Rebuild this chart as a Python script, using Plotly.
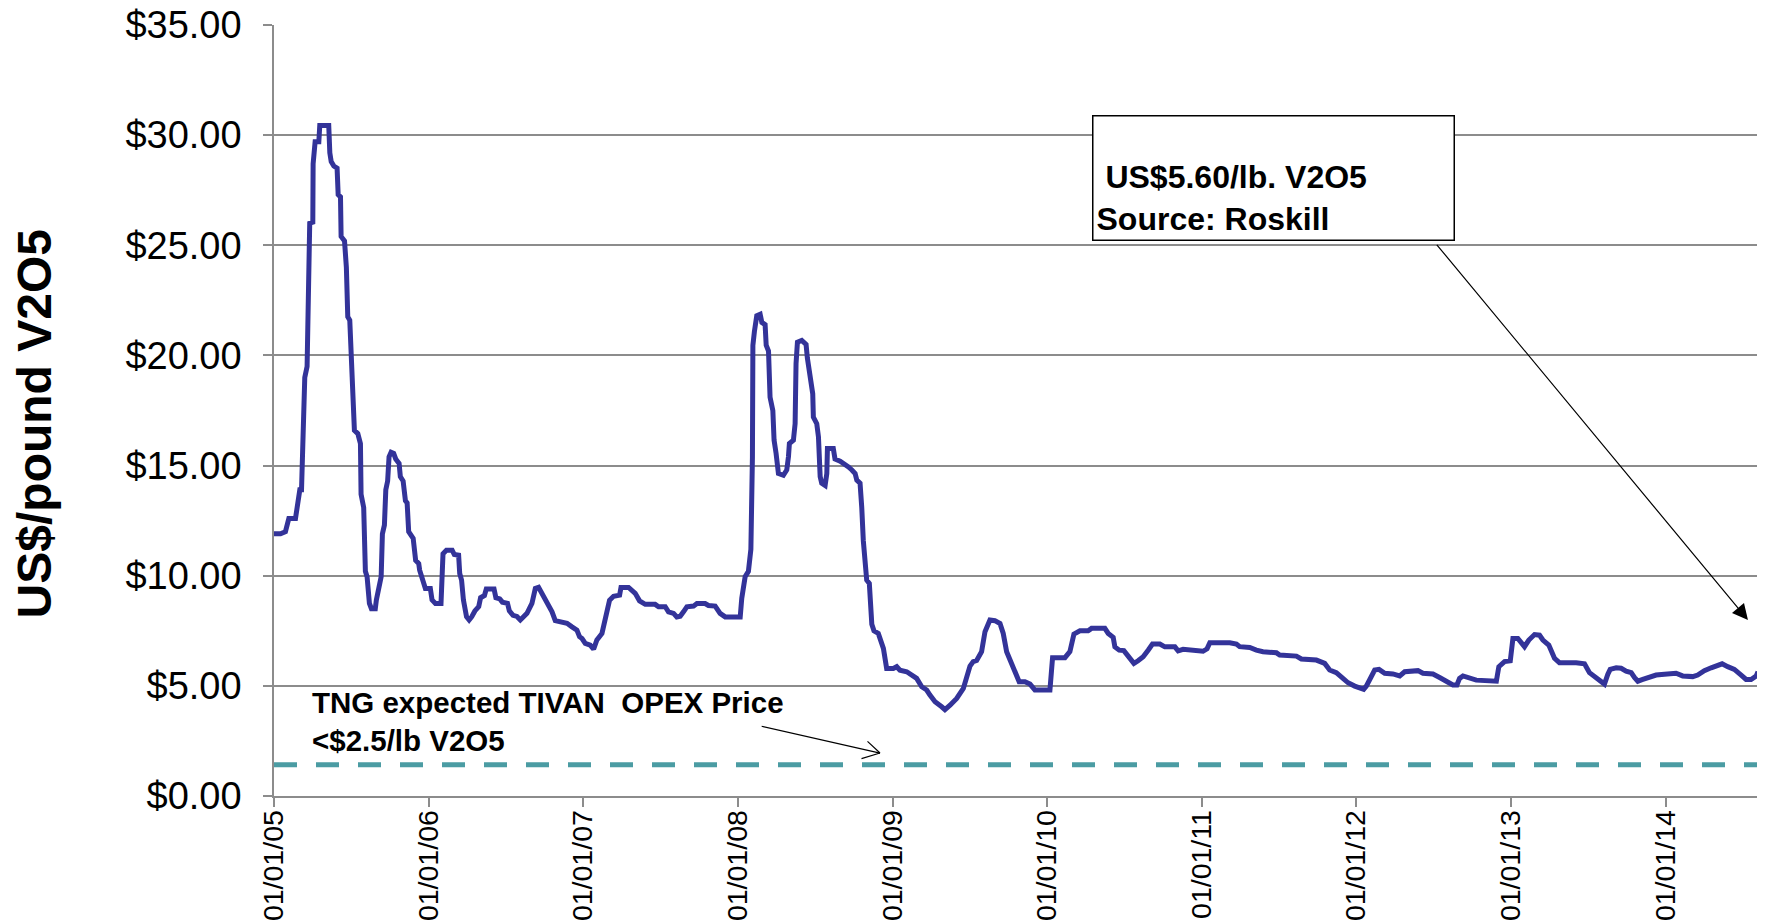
import pandas as pd
import plotly.graph_objects as go

# ---- data (decimal years, US$/lb V2O5) ----
t_years = [
    2005.000, 2005.042, 2005.074, 2005.096, 2005.139, 2005.150, 2005.167, 2005.178, 2005.189, 2005.199,
    2005.214, 2005.225, 2005.231, 2005.251, 2005.253, 2005.266, 2005.290, 2005.296, 2005.354, 2005.361,
    2005.370, 2005.387, 2005.408, 2005.415, 2005.430, 2005.434, 2005.456, 2005.468, 2005.477, 2005.490,
    2005.505, 2005.520, 2005.542, 2005.559, 2005.563, 2005.580, 2005.591, 2005.602, 2005.617, 2005.630,
    2005.655, 2005.662, 2005.693, 2005.701, 2005.714, 2005.723, 2005.735, 2005.744, 2005.757, 2005.774,
    2005.787, 2005.809, 2005.817, 2005.835, 2005.850, 2005.861, 2005.871, 2005.900, 2005.916, 2005.936,
    2005.942, 2005.968, 2005.979, 2006.011, 2006.022, 2006.044, 2006.080, 2006.093, 2006.115, 2006.152,
    2006.166, 2006.194, 2006.201, 2006.213, 2006.225, 2006.245, 2006.262, 2006.279, 2006.299, 2006.324,
    2006.336, 2006.361, 2006.373, 2006.423, 2006.435, 2006.460, 2006.477, 2006.510, 2006.522, 2006.546,
    2006.571, 2006.593, 2006.636, 2006.668, 2006.690, 2006.711, 2006.733, 2006.765, 2006.798, 2006.819,
    2006.862, 2006.895, 2006.927, 2006.959, 2006.976, 2006.992, 2007.013, 2007.045, 2007.067, 2007.088,
    2007.121, 2007.142, 2007.170, 2007.196, 2007.235, 2007.244, 2007.293, 2007.336, 2007.364, 2007.401,
    2007.465, 2007.487, 2007.530, 2007.551, 2007.584, 2007.605, 2007.627, 2007.648, 2007.670, 2007.713,
    2007.735, 2007.788, 2007.810, 2007.853, 2007.885, 2007.918, 2008.015, 2008.025, 2008.036, 2008.047,
    2008.068, 2008.084, 2008.094, 2008.097, 2008.107, 2008.122, 2008.144, 2008.155, 2008.176, 2008.183,
    2008.198, 2008.208, 2008.226, 2008.234, 2008.247, 2008.262, 2008.294, 2008.316, 2008.327, 2008.333,
    2008.359, 2008.370, 2008.376, 2008.385, 2008.413, 2008.441, 2008.449, 2008.467, 2008.484, 2008.488,
    2008.510, 2008.521, 2008.532, 2008.542, 2008.564, 2008.575, 2008.579, 2008.617, 2008.628, 2008.661,
    2008.687, 2008.715, 2008.737, 2008.758, 2008.769, 2008.790, 2008.801, 2008.811, 2008.833, 2008.850,
    2008.866, 2008.880, 2008.908, 2008.919, 2008.941, 2008.962, 2009.005, 2009.027, 2009.048, 2009.092,
    2009.124, 2009.156, 2009.189, 2009.221, 2009.242, 2009.275, 2009.318, 2009.339, 2009.372, 2009.415,
    2009.458, 2009.479, 2009.501, 2009.522, 2009.544, 2009.576, 2009.598, 2009.630, 2009.662, 2009.695,
    2009.716, 2009.738, 2009.770, 2009.803, 2009.819, 2009.856, 2009.889, 2009.921, 2010.018, 2010.035,
    2010.115, 2010.147, 2010.173, 2010.212, 2010.265, 2010.287, 2010.373, 2010.395, 2010.427, 2010.438,
    2010.466, 2010.496, 2010.513, 2010.535, 2010.561, 2010.588, 2010.621, 2010.653, 2010.681, 2010.729,
    2010.761, 2010.826, 2010.847, 2010.879, 2010.922, 2010.976, 2011.008, 2011.034, 2011.052, 2011.181,
    2011.224, 2011.245, 2011.310, 2011.353, 2011.396, 2011.483, 2011.504, 2011.612, 2011.644, 2011.741,
    2011.795, 2011.827, 2011.870, 2011.913, 2011.946, 2011.989, 2012.017, 2012.047, 2012.064, 2012.090,
    2012.118, 2012.146, 2012.183, 2012.236, 2012.280, 2012.312, 2012.365, 2012.398, 2012.430, 2012.495,
    2012.538, 2012.581, 2012.624, 2012.650, 2012.667, 2012.689, 2012.732, 2012.775, 2012.905, 2012.921,
    2012.958, 2012.995, 2013.012, 2013.044, 2013.087, 2013.115, 2013.152, 2013.184, 2013.206, 2013.244,
    2013.281, 2013.313, 2013.421, 2013.475, 2013.507, 2013.540, 2013.572, 2013.604, 2013.626, 2013.641,
    2013.680, 2013.712, 2013.744, 2013.777, 2013.798, 2013.820, 2013.852, 2013.895, 2013.938, 2013.992,
    2014.067, 2014.110, 2014.175, 2014.207, 2014.250, 2014.294, 2014.326, 2014.365, 2014.401, 2014.444,
    2014.488, 2014.520, 2014.552, 2014.585, 2014.597,
]
price = [
    11.9, 11.9, 12.0, 12.6, 12.6, 13.1, 13.9, 13.9, 16.8, 19.0,
    19.5, 25.1, 26.0, 26.05, 28.7, 29.7, 29.7, 30.44, 30.44, 29.2,
    28.8, 28.6, 28.5, 27.3, 27.2, 25.4, 25.2, 24.0, 21.75, 21.6,
    19.0, 16.6, 16.45, 16.0, 13.7, 13.1, 10.2, 9.95, 8.74, 8.5,
    8.5, 8.9, 9.95, 11.9, 12.3, 13.9, 14.3, 15.4, 15.6, 15.55,
    15.3, 15.1, 14.5, 14.3, 13.4, 13.3, 12.0, 11.7, 10.7, 10.55,
    10.25, 9.65, 9.42, 9.42, 8.9, 8.74, 8.74, 11.0, 11.16, 11.16,
    10.96, 10.93, 10.1, 9.8, 8.9, 8.14, 7.99, 8.14, 8.4, 8.6,
    9.0, 9.1, 9.4, 9.4, 9.0, 8.95, 8.8, 8.75, 8.4, 8.2,
    8.15, 7.99, 8.29, 8.74, 9.42, 9.47, 9.2, 8.74, 8.36, 7.96,
    7.91, 7.84, 7.68, 7.53, 7.23, 7.15, 6.93, 6.85, 6.66, 7.08,
    7.38, 7.99, 8.89, 9.07, 9.12, 9.47, 9.47, 9.2, 8.86, 8.7,
    8.7, 8.59, 8.59, 8.36, 8.29, 8.13, 8.16, 8.36, 8.59, 8.62,
    8.74, 8.74, 8.65, 8.62, 8.29, 8.13, 8.13, 8.97, 9.35, 9.96,
    10.2, 11.2, 15.4, 20.46, 21.1, 21.8, 21.87, 21.5, 21.4, 20.46,
    20.2, 18.1, 17.5, 16.15, 15.55, 14.64, 14.56, 14.8, 15.4, 16.0,
    16.15, 16.9, 19.63, 20.6, 20.68, 20.5, 19.9, 19.17, 18.26, 17.2,
    16.9, 16.3, 14.5, 14.2, 14.1, 14.64, 15.77, 15.77, 15.3, 15.2,
    15.09, 14.94, 14.8, 14.64, 14.34, 14.2, 13.1, 11.6, 9.8, 9.65,
    7.8, 7.5, 7.38, 7.08, 6.7, 5.79, 5.79, 5.87, 5.71, 5.64,
    5.49, 5.34, 4.96, 4.81, 4.58, 4.28, 4.05, 3.92, 4.12, 4.43,
    4.88, 5.49, 5.9, 6.1, 6.15, 6.55, 7.46, 7.99, 7.96, 7.83,
    7.38, 6.55, 6.02, 5.49, 5.19, 5.19, 5.08, 4.81, 4.81, 6.28,
    6.28, 6.55, 7.35, 7.5, 7.5, 7.61, 7.61, 7.38, 7.2, 6.77,
    6.62, 6.6, 6.47, 6.25, 6.02, 6.14, 6.32, 6.62, 6.9, 6.9,
    6.77, 6.77, 6.59, 6.66, 6.62, 6.55, 6.57, 6.68, 6.96, 6.96,
    6.9, 6.78, 6.74, 6.62, 6.55, 6.5, 6.4, 6.35, 6.22, 6.17,
    6.02, 5.72, 5.6, 5.34, 5.14, 4.99, 4.93, 4.84, 4.99, 5.38,
    5.72, 5.75, 5.57, 5.54, 5.45, 5.64, 5.69, 5.69, 5.57, 5.54,
    5.38, 5.19, 5.04, 5.04, 5.34, 5.45, 5.34, 5.26, 5.21, 5.87,
    6.1, 6.14, 7.15, 7.15, 6.78, 7.08, 7.33, 7.3, 7.08, 6.85,
    6.25, 6.05, 6.05, 6.0, 5.6, 5.42, 5.26, 5.08, 5.53, 5.75,
    5.82, 5.8, 5.67, 5.6, 5.38, 5.21, 5.29, 5.42, 5.49, 5.53,
    5.57, 5.45, 5.42, 5.49, 5.69, 5.82, 5.9, 6.0, 5.87, 5.75,
    5.49, 5.29, 5.29, 5.45, 5.64,
]
opex_years = [2005.000, 2014.597]
opex_price = [1.42, 1.42]
x_range_years = [2005.000, 2014.597]
y_ticks = [0, 5, 10, 15, 20, 25, 30, 35]

# arrow end points (decimal year, price)
roskill_tip = (2014.532, 7.99)
roskill_tail = (2012.512, 25.09)
opex_tip = (2008.919, 1.95)
opex_tail = (2008.144, 3.18)


def to_date(y):
    return pd.Timestamp("2005-01-01") + pd.to_timedelta((y - 2005.0) * 365.25, unit="D")


dates = [to_date(y) for y in t_years]
FONT = "Arial, 'Liberation Sans', sans-serif"

fig = go.Figure()
fig.add_trace(go.Scatter(
    x=[to_date(y) for y in opex_years], y=opex_price, mode="lines",
    line=dict(color="#4B9CA3", width=5, dash="23px,19px"), hoverinfo="skip", showlegend=False))
fig.add_trace(go.Scatter(
    x=dates, y=price, mode="lines",
    line=dict(color="#333399", width=5), showlegend=False))

annotations = [
    dict(text="<b>US$/pound V2O5</b>", xref="paper", yref="paper", x=0, y=0.482,
         xshift=-240, xanchor="center", yanchor="middle", textangle=-90, showarrow=False,
         font=dict(family=FONT, size=48, color="black")),
    dict(text="<b>\u00a0US$5.60/lb. V2O5<br>Source: Roskill</b>", xref="paper", yref="paper",
         x=0.6735, y=0.801, xanchor="center", yanchor="middle", showarrow=False,
         width=354, height=117, align="left", valign="bottom",
         bordercolor="black", borderwidth=1.5, borderpad=3, bgcolor="white",
         font=dict(family=FONT, size=32, color="black")),
    dict(text="<b>TNG expected TIVAN\u00a0 OPEX Price<br>&lt;$2.5/lb V2O5</b>", xref="paper", yref="paper",
         x=0.0245, y=0.097, xanchor="left", yanchor="middle", showarrow=False, align="left",
         font=dict(family=FONT, size=29.5, color="black")),
    dict(text="", x=to_date(roskill_tip[0]), y=roskill_tip[1], xref="x", yref="y",
         ax=to_date(roskill_tail[0]), ay=roskill_tail[1], axref="x", ayref="y",
         showarrow=True, arrowhead=2, arrowsize=2.6, arrowwidth=1.2, arrowcolor="black"),
    dict(text="", x=to_date(opex_tip[0]), y=opex_tip[1], xref="x", yref="y",
         ax=to_date(opex_tail[0]), ay=opex_tail[1], axref="x", ayref="y",
         showarrow=True, arrowhead=0, arrowwidth=1.2, arrowcolor="black"),
    dict(text="", x=to_date(opex_tip[0]), y=opex_tip[1], xref="x", yref="y",
         ax=-14, ay=-13, showarrow=True, arrowhead=0, arrowwidth=1.2, arrowcolor="black"),
    dict(text="", x=to_date(opex_tip[0]), y=opex_tip[1], xref="x", yref="y",
         ax=-20, ay=6, showarrow=True, arrowhead=0, arrowwidth=1.2, arrowcolor="black"),
]

fig.update_layout(
    width=1757, height=916,
    margin=dict(l=266, r=7, t=17, b=128, autoexpand=False),
    paper_bgcolor="white", plot_bgcolor="white",
    font=dict(family=FONT, color="black"),
    annotations=annotations,
    showlegend=False,
)
fig.update_xaxes(
    type="date", range=[to_date(x_range_years[0]), to_date(x_range_years[1])],
    tick0="2005-01-01", dtick="M12", tickformat="%m/%d/%y", tickangle=-90,
    tickfont=dict(family=FONT, size=28.5, color="black"), automargin=False,
    showgrid=False, zeroline=False, showline=True, linecolor="#8c8c8c", linewidth=1.5,
    ticks="outside", ticklen=9, tickcolor="#8c8c8c", tickwidth=1.5, ticklabelstandoff=-8,
    ticklabeloverflow="allow",
)
fig.update_yaxes(
    range=[0, 35], tickvals=y_ticks, tickformat="$.2f",
    tickfont=dict(family=FONT, size=38, color="black"), automargin=False,
    showgrid=True, gridcolor="#8c8c8c", gridwidth=1.5, zeroline=False,
    showline=True, linecolor="#8c8c8c", linewidth=1.5,
    ticks="outside", ticklen=9, tickcolor="#8c8c8c", tickwidth=1.5, ticklabelstandoff=14,
    ticklabeloverflow="allow",
)

fig.write_html("out.html")
